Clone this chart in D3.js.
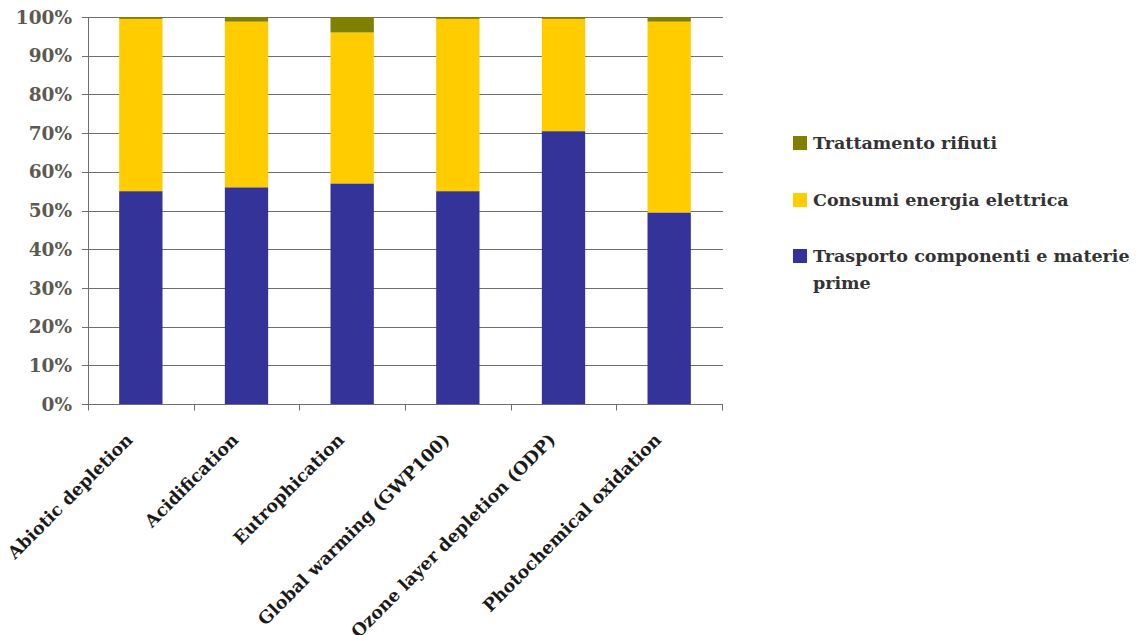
<!DOCTYPE html>
<html>
<head>
<meta charset="utf-8">
<script src="https://cdn.jsdelivr.net/npm/d3@7/dist/d3.min.js"></script>
<style>
  html, body { margin: 0; padding: 0; background: #fff; }
  svg { display: block; }
</style>
</head>
<body>
<svg id="chart" width="1139" height="635"></svg>
<script>
// Impact categories (x axis)
const categories = [
  "Abiotic depletion",
  "Acidification",
  "Eutrophication",
  "Global warming (GWP100)",
  "Ozone layer depletion (ODP)",
  "Photochemical oxidation"
];

// Share of each contribution, in percent
const trasporto   = [55.0, 56.0, 57.0, 55.0, 70.5, 49.5];
const consumi     = [44.5, 42.8, 39.0, 44.5, 29.0, 49.3];
const trattamento = [0.5, 1.2, 4.0, 0.5, 0.5, 1.2];

const seriesNames = [
  "Trasporto componenti e materie prime",
  "Consumi energia elettrica",
  "Trattamento rifiuti"
];
const seriesColors = ["#333399", "#FFCC00", "#808000"];

const yTicks = [0, 10, 20, 30, 40, 50, 60, 70, 80, 90, 100];

const rows = categories.map((c, i) => ({
  category: c,
  [seriesNames[0]]: trasporto[i],
  [seriesNames[1]]: consumi[i],
  [seriesNames[2]]: trattamento[i]
}));

const svg = d3.select("#chart");
const margin = { left: 88, right: 417, top: 17, bottom: 231 };
const W = 1139, H = 635;

const x = d3.scaleBand()
  .domain(categories)
  .range([margin.left, W - margin.right])
  .paddingInner(0.59)
  .paddingOuter(0.295);

const y = d3.scaleLinear()
  .domain([0, 100])
  .range([H - margin.bottom, margin.top]);

const serif = "'DejaVu Serif', 'Liberation Serif', serif";

// horizontal gridlines with outward ticks
const grid = svg.append("g");
grid.selectAll("line")
  .data(yTicks)
  .join("line")
  .attr("x1", margin.left - 6)
  .attr("x2", W - margin.right + 1)
  .attr("y1", d => Math.round(y(d)) + 0.5)
  .attr("y2", d => Math.round(y(d)) + 0.5)
  .attr("stroke", "#6e6e6e")
  .attr("stroke-width", 1);

// stacked bars
const stack = d3.stack().keys(seriesNames);
const stacked = stack(rows);

svg.append("g")
  .selectAll("g")
  .data(stacked)
  .join("g")
  .attr("fill", (d, i) => seriesColors[i])
  .selectAll("rect")
  .data(d => d)
  .join("rect")
  .attr("x", d => x(d.data.category))
  .attr("width", x.bandwidth())
  .attr("y", d => y(d[1]))
  .attr("height", d => y(d[0]) - y(d[1]));

// y axis line
svg.append("line")
  .attr("x1", margin.left + 0.5).attr("x2", margin.left + 0.5)
  .attr("y1", y(100)).attr("y2", y(0) + 1)
  .attr("stroke", "#6e6e6e");

// x axis with category separator ticks
const xAxisY = Math.round(y(0)) + 0.5;
svg.append("line")
  .attr("x1", margin.left).attr("x2", W - margin.right + 1)
  .attr("y1", xAxisY).attr("y2", xAxisY)
  .attr("stroke", "#6e6e6e");

const step = x.step();
const tickXs = d3.range(categories.length + 1).map(i => x(categories[0]) - x.paddingOuter() * step + i * step);
svg.append("g").selectAll("line")
  .data(tickXs)
  .join("line")
  .attr("x1", d => Math.round(d) + 0.5)
  .attr("x2", d => Math.round(d) + 0.5)
  .attr("y1", xAxisY)
  .attr("y2", xAxisY + 6)
  .attr("stroke", "#6e6e6e");

// y tick labels
svg.append("g").selectAll("text")
  .data(yTicks)
  .join("text")
  .attr("x", 72)
  .attr("y", d => y(d))
  .attr("dy", "0.36em")
  .attr("text-anchor", "end")
  .attr("font-family", serif)
  .attr("font-weight", "bold")
  .attr("font-size", 18.5)
  .attr("fill", "#5a5a52")
  .text(d => d + "%");

// rotated category labels
svg.append("g").selectAll("text")
  .data(categories)
  .join("text")
  .attr("transform", d => `translate(${x(d) + x.bandwidth() / 2 - 7},${y(0) + 37}) rotate(-45)`)
  .attr("text-anchor", "end")
  .attr("font-family", serif)
  .attr("font-weight", "bold")
  .attr("font-size", 17.5)
  .attr("fill", "#1a1a1a")
  .text(d => d);

// legend
const legendItems = [
  { color: seriesColors[2], lines: ["Trattamento rifiuti"], y: 143 },
  { color: seriesColors[1], lines: ["Consumi energia elettrica"], y: 200 },
  { color: seriesColors[0], lines: ["Trasporto componenti e materie", "prime"], y: 256 }
];
const legend = svg.append("g");
legendItems.forEach(item => {
  legend.append("rect")
    .attr("x", 793).attr("y", item.y - 7)
    .attr("width", 14).attr("height", 14)
    .attr("fill", item.color);
  const t = legend.append("text")
    .attr("font-family", serif)
    .attr("font-weight", "bold")
    .attr("font-size", 17.5)
    .attr("fill", "#333");
  item.lines.forEach((ln, k) => {
    t.append("tspan")
      .attr("x", 813)
      .attr("y", item.y + k * 27)
      .attr("dy", "0.35em")
      .text(ln);
  });
});
</script>
</body>
</html>
